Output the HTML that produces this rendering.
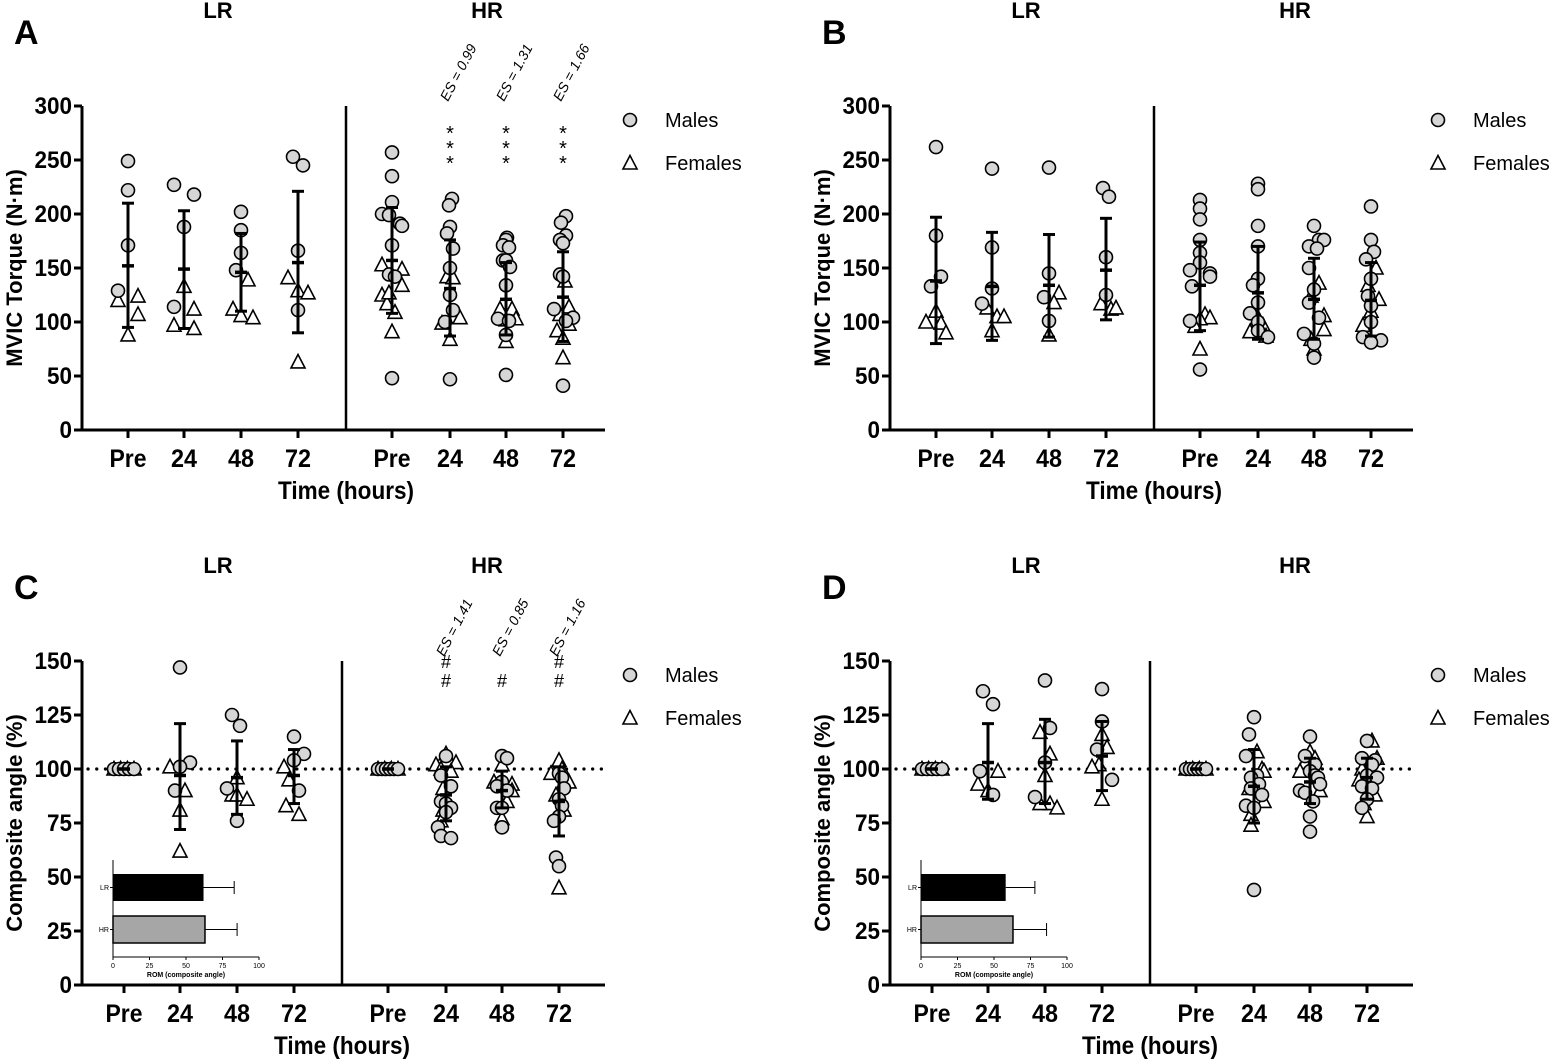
<!DOCTYPE html>
<html><head><meta charset="utf-8"><style>
html,body{margin:0;padding:0;background:#fff;}
svg{display:block;}
text{font-family:"Liberation Sans",sans-serif;}
.n{font-family:"Liberation Sans Narrow","Liberation Sans",sans-serif;font-weight:bold;}
</style></head><body>
<svg id="s" width="1558" height="1061" viewBox="0 0 1558 1061" xmlns="http://www.w3.org/2000/svg"></svg>
<script>
const S=document.getElementById('s');let h='';
function T(x,y,t,a){h+=`<text x="${x}" y="${y}" ${a||''}>${t}</text>`;}
function L(x1,y1,x2,y2,w,extra){h+=`<line x1="${x1}" y1="${y1}" x2="${x2}" y2="${y2}" stroke="#000" stroke-width="${w}" ${extra||''}/>`;}
function circ(x,y){h+=`<circle cx="${x}" cy="${y}" r="6.5" fill="#d6d6d6" stroke="#000" stroke-width="1.6"/>`;}
function tri(x,y){h+=`<polygon points="${x},${y-7.5} ${x-7},${y+6} ${x+7},${y+6}" fill="#fff" stroke="#000" stroke-width="1.6"/>`;}
function panel(o){
 const ox=o.ox,ax=82+ox,yt=o.top,y0=o.y0,mx=o.max;
 const Y=v=>y0-(y0-yt)*v/mx;
 const cats=[128,184,241,298,392,450,506,563].map(c=>c+ox+o.dx);
 L(ax,yt,ax,y0+1.5,3);L(ax-1.5,y0,605+ox,y0,3);
 L(346+ox+o.dx,yt,346+ox+o.dx,y0,2.5);
 o.ticks.forEach(v=>{L(ax-8,Y(v),ax,Y(v),3);const s=String(v);T(ax-10,Y(v)+8,v,`class="n" font-size="24" text-anchor="end" textLength="${s.length*12.5}" lengthAdjust="spacingAndGlyphs"`);});
 const lab=['Pre','24','48','72','Pre','24','48','72'];
 cats.forEach((c,i)=>{L(c,y0,c,y0+8,3);T(c,y0+37,lab[i],`class="n" font-size="25" text-anchor="middle" textLength="${lab[i]=='Pre'?37:26}" lengthAdjust="spacingAndGlyphs"`);});
 T(ox+o.dx+346,y0+69,'Time (hours)','class="n" font-size="25" text-anchor="middle" textLength="136" lengthAdjust="spacingAndGlyphs"');
 T(ox+218,yt-88,'LR','class="n" font-size="22" text-anchor="middle"');
 T(ox+487,yt-88,'HR','class="n" font-size="22" text-anchor="middle"');
 T(ox+14,yt-62,o.letter,'font-size="34" font-weight="bold"');
 T(0,0,o.ylab,`font-size="22" font-weight="bold" text-anchor="middle" transform="translate(${ox+22},${(yt+y0)/2}) rotate(-90)"`);
 circ(630+ox,yt+14);T(665+ox,yt+21,'Males','font-size="20"');
 tri(630+ox,yt+57);T(665+ox,yt+64,'Females','font-size="20"');
 if(o.dotted){h+=`<line x1="${ax+6}" y1="${Y(100)}" x2="${605+ox}" y2="${Y(100)}" stroke="#000" stroke-width="3.2" stroke-dasharray="0.1 8.6" stroke-linecap="round"/>`;}
 o.data.forEach((d,i)=>{const c=cats[i];
  (d.t||[]).forEach(p=>tri(c+p[1],Y(p[0])));
  (d.c||[]).forEach(p=>circ(c+p[1],Y(p[0])));
  L(c,Y(d.e[0]),c,Y(d.e[1]),3);L(c-6,Y(d.e[0]),c+6,Y(d.e[0]),3);L(c-6,Y(d.e[1]),c+6,Y(d.e[1]),3);L(c-6,Y(d.m),c+6,Y(d.m),3.5);
 });
 (o.ann||[]).forEach((a,i)=>{const c=cats[5+i];
  T(0,0,a[0],`font-size="14" font-style="italic" transform="translate(${c-2},${yt-4}) rotate(-62)"`);
  a[1].forEach((s,j)=>T(c,yt+a[2]+j*a[3],s,'font-size="'+a[4]+'" text-anchor="middle"'));
 });
 if(o.inset){const ix=113+ox,it=860,ib=957,X=v=>ix+v*1.46;
  h+=`<rect x="${ix}" y="874" width="${X(o.inset[0])-ix}" height="27" fill="#000"/>`;
  h+=`<rect x="${ix}" y="916" width="${X(o.inset[2])-ix}" height="27" fill="#a6a6a6" stroke="#000" stroke-width="1.5"/>`;
  L(X(o.inset[0]),887.5,X(o.inset[1]),887.5,1,'stroke="#666"');L(X(o.inset[1]),881,X(o.inset[1]),894,1);
  L(X(o.inset[2]),929.5,X(o.inset[3]),929.5,1);L(X(o.inset[3]),923,X(o.inset[3]),936,1);
  L(ix,it,ix,ib,1);L(ix,ib,X(100),ib,1);
  [0,25,50,75,100].forEach(v=>{L(X(v),ib,X(v),ib+3,1);T(X(v),ib+11,v,'font-size="7" text-anchor="middle"');});
  L(ix-3,887.5,ix,887.5,1);L(ix-3,929.5,ix,929.5,1);
  T(ix-4,890,'LR','font-size="7" text-anchor="end"');T(ix-4,932,'HR','font-size="7" text-anchor="end"');
  T(X(50),ib+20,'ROM (composite angle)','font-size="7" font-weight="bold" text-anchor="middle"');
 }
}
const cl=(...a)=>a.map(p=>Array.isArray(p)?p:[p,0]);
const hund=n=>Array.from({length:n},(_,i)=>[100,-10+20*i/(n-1)]);
panel({ox:0,dx:0,top:106,y0:430,max:300,ticks:[0,50,100,150,200,250,300],letter:'A',ylab:'MVIC Torque (N·m)',
data:[
{c:cl(249,222,171,[129,-10]),t:cl([120,-10],[124,10],[107,10],88),m:152,e:[95,210]},
{c:cl([227,-10],[218,10],188,[114,-10]),t:cl(133,[112,10],[97,-10],[94,10]),m:149,e:[94,203]},
{c:cl(202,185,164,[148,-5]),t:cl([139,7],[112,-8],106,[104,12]),m:146,e:[110,182]},
{c:cl([253,-5],[245,5],166,111),t:cl([141,-10],129,[127,10],63),m:155,e:[90,221]},
{c:cl(257,235,211,[200,-10],[199,-3],[191,8],[189,10],171,[144,-3],[142,3],48),t:cl([153,-10],[149,10],[134,10],[125,-10],[117,-5],[127,-3],[109,3],91),m:157,e:[108,206]},
{c:cl([214,2],[208,-1],188,[182,-3],[168,3],150,125,[111,3],[100,-5],47),t:cl([142,-3],[141,3],[105,3],[104,10],[99,-8],84),m:131,e:[87,176]},
{c:cl([178,1],176,[171,-3],[169,3],[157,-3],157,[151,4],134,[103,-8],[101,3],88,51),t:cl([112,-6],[112,6],[103,10],102,82),m:121,e:[88,155]},
{c:cl([198,3],[192,-2],[180,3],[176,-3],173,[144,-3],142,[112,-9],[104,10],[101,3],41),t:cl([138,2],[114,6],[107,-3],[98,6],[92,-6],85,67),m:123,e:[82,165]}],
ann:[['ES = 0.99',['*','*','*'],34,15,20],['ES = 1.31',['*','*','*'],34,15,20],['ES = 1.66',['*','*','*'],34,15,20]]});
panel({ox:808,dx:0,top:106,y0:430,max:300,ticks:[0,50,100,150,200,250,300],letter:'B',ylab:'MVIC Torque (N·m)',
data:[
{c:cl(262,180,[142,5],[133,-5]),t:cl(110,[100,-10],[99,5],[90,10]),m:138,e:[80,197]},
{c:cl(242,169,131,[117,-10]),t:cl([113,-5],[105,5],[105,12],92),m:133,e:[83,183]},
{c:cl(243,145,[123,-5],101),t:cl([127,10],[118,5],88),m:134,e:[86,181]},
{c:cl([224,-3],[216,3],160,125),t:cl([117,-5],[112,5],[113,10]),m:148,e:[102,196]},
{c:cl(213,205,195,176,164,155,[148,-10],[145,10],[142,10],[133,-8],[101,-10],56),t:cl([107,5],[104,10],103,[96,-5],75),m:134,e:[92,174]},
{c:cl(228,223,189,170,140,[134,-5],118,[108,-8],100,92,[86,10]),t:cl([97,5],[91,-8],[87,8],104),m:127,e:[84,170]},
{c:cl(189,[176,5],[176,10],[170,-5],[168,3],[150,-5],130,[118,-5],[104,5],[89,-10],80,67),t:cl([136,5],[124,-3],[106,10],[93,10],[84,-3],75),m:121,e:[84,159]},
{c:cl(207,176,[165,3],[158,-5],140,[124,-3],115,100,[86,-8],[83,10],81),t:cl([150,5],[134,-3],[121,8],110,[97,-8]),m:120,e:[87,155]}]});
panel({ox:0,dx:-4,top:661,y0:985,max:150,ticks:[0,25,50,75,100,125,150],letter:'C',ylab:'Composite angle (%)',dotted:1,inset:[62,83,63,85],
data:[
{c:hund(5),t:hund(4),m:100,e:[100,100]},
{c:cl(147,[103,10],101,[90,-5]),t:cl([101,-10],[90,5],81,62),m:97,e:[72,121]},
{c:cl([125,-5],[120,3],[91,-10],76),t:cl(96,[88,-5],88,[86,10]),m:96,e:[79,113]},
{c:cl(115,[107,10],104,[90,5]),t:cl([101,-10],[95,-5],[83,-8],[79,5]),m:97,e:[84,109]},
{c:hund(6),t:hund(4),m:100,e:[100,100]},
{c:cl(106,[97,-5],[92,5],[85,-5],84,[82,5],80,[73,-8],[69,-5],[68,5]),t:cl(107,[102,-10],[100,-5],[103,10],[99,5],92,[91,-3],[81,-3],[76,-5]),m:88,e:[76,101]},
{c:cl(106,[105,5],94,[92,-5],[90,5],[82,-5],82,73),t:cl(102,[94,-8],[93,10],[90,10],[85,5],77),m:90,e:[82,99]},
{c:cl(98,[96,3],[91,5],86,[83,3],78,[76,-5],[59,-3],55),t:cl(104,[100,3],[98,-8],[94,10],[88,-3],[81,5],45),m:85,e:[69,101]}],
ann:[['ES = 1.41',['#','#'],7,19,18],['ES = 0.85',['#'],26,19,18],['ES = 1.16',['#','#'],7,19,18]]});
panel({ox:808,dx:-4,top:661,y0:985,max:150,ticks:[0,25,50,75,100,125,150],letter:'D',ylab:'Composite angle (%)',dotted:1,inset:[58,78,63,86],
data:[
{c:hund(5),t:hund(4),m:100,e:[100,100]},
{c:cl([136,-5],[130,5],[99,-8],[88,5]),t:cl([99,10],[93,-10],90),m:103,e:[86,121]},
{c:cl(141,[119,5],103,[87,-10]),t:cl([117,-5],[107,5],97,[84,5],[82,12],[84,-5]),m:103,e:[84,123]},
{c:cl(137,122,[109,-5],[95,10]),t:cl(116,[110,5],[102,-3],[101,-10],86),m:106,e:[90,122]},
{c:hund(6),t:hund(4),m:100,e:[100,100]},
{c:cl(124,[116,-5],[106,-8],[97,3],[96,-3],[93,5],[91,-3],[88,8],[83,-8],82,44),t:cl([108,3],[100,8],[99,10],[91,-5],[85,10],[79,-3],[74,-3]),m:92,e:[75,109]},
{c:cl(115,[106,-5],[102,5],99,[97,5],[96,8],[93,10],[90,-10],[89,-5],[85,3],78,71),t:cl(108,[105,5],[103,-5],[99,-10],[96,8],[90,10]),m:94,e:[84,105]},
{c:cl(113,[105,-5],[104,8],[102,5],97,[96,10],[92,-5],[91,5],86,[82,-5]),t:cl([113,5],[105,10],[100,-5],[95,-8],[88,8],[84,-3],78),m:96,e:[86,105]}]});
S.innerHTML=h;
</script>
</body></html>
